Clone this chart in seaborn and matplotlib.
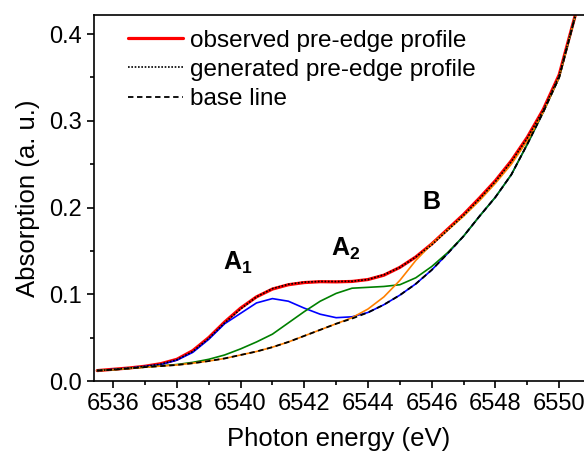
import numpy as np
import pandas as pd
import matplotlib
matplotlib.use('Agg')
import matplotlib.pyplot as plt
import seaborn as sns
from matplotlib.ticker import MultipleLocator

sns.set_style('ticks')
plt.rcParams['font.family'] = ['Liberation Sans', 'DejaVu Sans']
plt.rcParams['mathtext.fontset'] = 'custom'
plt.rcParams['mathtext.rm'] = 'Liberation Sans'
plt.rcParams['mathtext.bf'] = 'Liberation Sans:bold'
plt.rcParams['text.color'] = 'black'
plt.rcParams['axes.labelcolor'] = 'black'
plt.rcParams['xtick.color'] = 'black'
plt.rcParams['ytick.color'] = 'black'
plt.rcParams['axes.edgecolor'] = 'black'

# энергия фотона, шаг 0.5 эВ
energy = np.arange(6535.5, 6550.51, 0.5)

base_line = [0.012, 0.013, 0.0145, 0.016, 0.0172, 0.0185, 0.0205, 0.023, 0.026, 0.030,
             0.034, 0.039, 0.045, 0.052, 0.059, 0.066, 0.072, 0.079, 0.088, 0.099,
             0.112, 0.128, 0.147, 0.167, 0.190, 0.212, 0.238, 0.273, 0.310, 0.350, 0.420]

observed = [0.012, 0.0135, 0.015, 0.017, 0.020, 0.025, 0.035, 0.050, 0.068, 0.084,
            0.097, 0.106, 0.111, 0.1135, 0.1145, 0.1143, 0.1148, 0.117, 0.122, 0.131,
            0.143, 0.158, 0.175, 0.192, 0.211, 0.231, 0.254, 0.281, 0.313, 0.353, 0.421]

generated = [0.012, 0.0133, 0.0148, 0.0168, 0.0195, 0.0245, 0.034, 0.049, 0.067, 0.083,
             0.097, 0.1065, 0.1115, 0.114, 0.1148, 0.1147, 0.115, 0.117, 0.1225, 0.131,
             0.143, 0.157, 0.174, 0.191, 0.210, 0.230, 0.253, 0.280, 0.312, 0.352, 0.420]

# компоненты: база + пик
peak_a1 = [0.012, 0.0133, 0.0148, 0.0168, 0.019, 0.024, 0.033, 0.048, 0.066, 0.078,
           0.090, 0.095, 0.092, 0.084, 0.077, 0.073, 0.074, 0.079, 0.088, 0.099,
           0.112, 0.128, 0.147, 0.167, 0.190, 0.212, 0.238, 0.273, 0.310, 0.350, 0.420]

peak_a2 = [0.012, 0.013, 0.0145, 0.016, 0.0175, 0.019, 0.0215, 0.025, 0.030, 0.037,
           0.045, 0.054, 0.067, 0.080, 0.092, 0.101, 0.107, 0.108, 0.109, 0.111,
           0.119, 0.132, 0.148, 0.167, 0.190, 0.212, 0.238, 0.273, 0.310, 0.350, 0.420]

peak_b = [0.012, 0.013, 0.0145, 0.016, 0.0172, 0.0185, 0.0205, 0.023, 0.026, 0.030,
          0.034, 0.039, 0.045, 0.052, 0.059, 0.066, 0.073, 0.083, 0.097, 0.116,
          0.139, 0.158, 0.174, 0.190, 0.208, 0.228, 0.250, 0.277, 0.310, 0.350, 0.420]

fig = plt.figure(figsize=(5.84, 4.57), dpi=100)
ax = fig.add_axes([94 / 584, 76 / 457, 490 / 584, 366 / 457])

sns.lineplot(x=energy, y=observed, ax=ax, color='#ff0000', lw=2.3, label='observed pre-edge profile')
sns.lineplot(x=energy, y=peak_a1, ax=ax, color='#0000ff', lw=1.2)
sns.lineplot(x=energy, y=peak_a2, ax=ax, color='#008000', lw=1.2)
sns.lineplot(x=energy, y=peak_b, ax=ax, color='#ff8000', lw=1.2)
sns.lineplot(x=energy, y=generated, ax=ax, color='black', lw=1.2, ls=(0, (1, 1)),
             label='generated pre-edge profile')
sns.lineplot(x=energy, y=base_line, ax=ax, color='black', lw=1.3, ls=(0, (3, 2)),
             label='base line')

ax.set_xlim(6535.4, 6550.78)
ax.set_ylim(0, 0.422)
ax.xaxis.set_major_locator(MultipleLocator(2))
ax.xaxis.set_minor_locator(MultipleLocator(1))
ax.yaxis.set_major_locator(MultipleLocator(0.1))
ax.yaxis.set_minor_locator(MultipleLocator(0.05))
ax.tick_params(which='major', length=5, width=1.2, labelsize=17, pad=4)
ax.tick_params(which='minor', length=3, width=1.2)
ax.spines['right'].set_visible(False)
for s in ['left', 'bottom', 'top']:
    ax.spines[s].set_linewidth(1.2)

ax.set_xlabel('Photon energy (eV)', fontsize=18.5, labelpad=8)
ax.set_ylabel('Absorption (a. u.)', fontsize=18.5, labelpad=6)

ax.text(6539.9, 0.128, r'$\mathbf{A_1}$', fontsize=18, ha='center')
ax.text(6543.3, 0.144, r'$\mathbf{A_2}$', fontsize=18, ha='center')
ax.text(6546.0, 0.198, r'$\mathbf{B}$', fontsize=18, ha='center')

ax.legend(loc='upper left', frameon=False, fontsize=17.5, handlelength=2.26,
          handletextpad=0.3, labelspacing=0.3, borderpad=0, borderaxespad=0,
          bbox_to_anchor=(0.069, 0.96))

fig.savefig('out.png', dpi=100)
